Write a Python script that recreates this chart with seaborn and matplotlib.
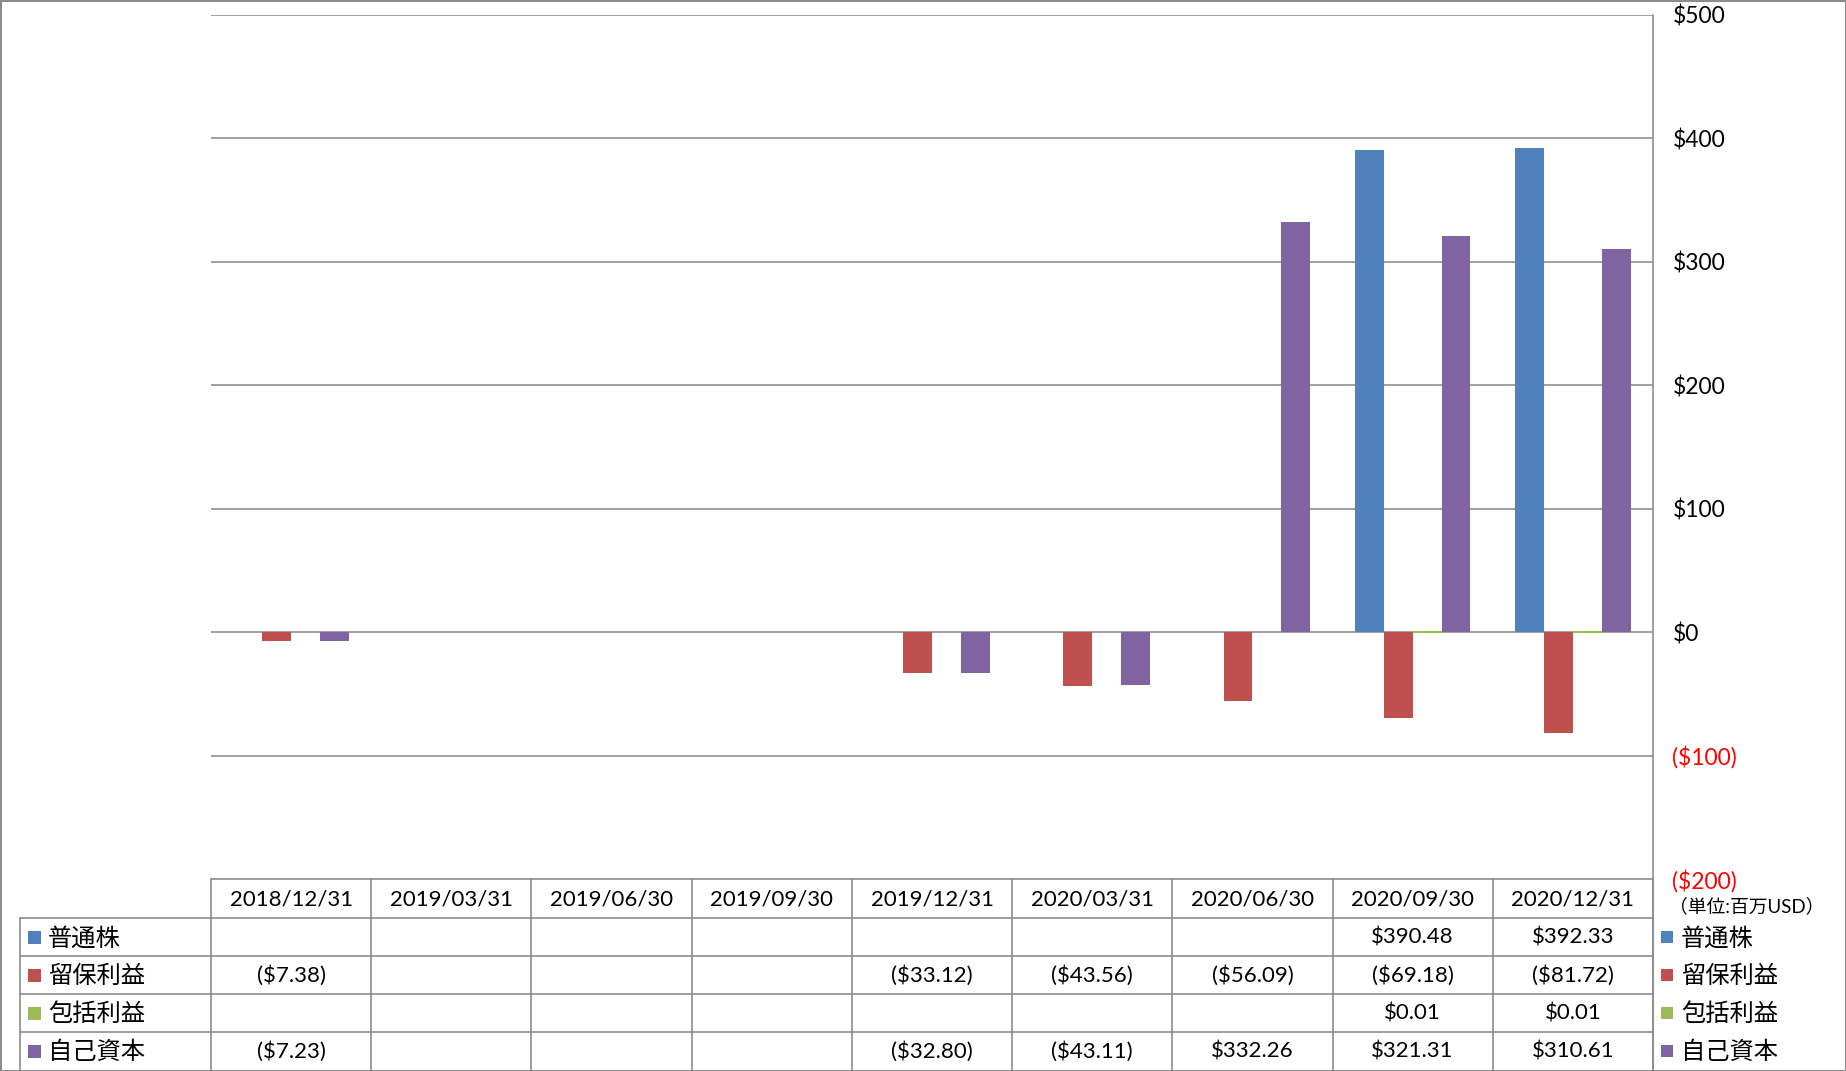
import numpy as np
import pandas as pd
import seaborn as sns
import matplotlib
matplotlib.use("Agg")
import matplotlib.pyplot as plt
from matplotlib.lines import Line2D
from matplotlib.patches import Rectangle

# ---- data ----
dates = ["2018/12/31", "2019/03/31", "2019/06/30", "2019/09/30", "2019/12/31",
         "2020/03/31", "2020/06/30", "2020/09/30", "2020/12/31"]
series_names = ["普通株", "留保利益", "包括利益", "自己資本"]
common_stock = [np.nan, np.nan, np.nan, np.nan, np.nan, np.nan, np.nan, 390.48, 392.33]
retained_earnings = [-7.38, np.nan, np.nan, np.nan, -33.12, -43.56, -56.09, -69.18, -81.72]
comprehensive_income = [np.nan, np.nan, np.nan, np.nan, np.nan, np.nan, np.nan, 0.01, 0.01]
equity = [-7.23, np.nan, np.nan, np.nan, -32.80, -43.11, 332.26, 321.31, 310.61]
yticks = [-200, -100, 0, 100, 200, 300, 400, 500]
unit_label = "（単位:百万USD）"
colors = ["#4F81BD", "#C0504D", "#9BBB59", "#8064A2"]

values = [common_stock, retained_earnings, comprehensive_income, equity]
rows = []
for name, vals in zip(series_names, values):
    for d, v in zip(dates, vals):
        rows.append({"date": d, "series": name, "value": v})
df = pd.DataFrame(rows)

sns.set_theme(style="white")
plt.rcParams["font.family"] = ["Lato", "Noto Sans CJK JP", "DejaVu Sans"]
plt.rcParams["text.parse_math"] = False

W, H = 1846, 1071
fig = plt.figure(figsize=(W / 100, H / 100), dpi=100)

# pixel geometry
px_left, px_right = 211, 1653
px_top, px_bottom = 15, 879
ax = fig.add_axes([px_left / W, 1 - px_bottom / H, (px_right - px_left) / W, (px_bottom - px_top) / H])

sns.barplot(data=df.dropna(), x="date", y="value", hue="series", order=dates,
            hue_order=series_names, palette=colors, width=0.72, saturation=1,
            edgecolor="none", linewidth=0, ax=ax)
ax.legend_.remove()
# tiny values remain visible as a thin line
for p in ax.containers[2].patches:
    p.set_edgecolor(colors[2])
    p.set_linewidth(1.5)
ax.set_xlim(-0.5, len(dates) - 0.5)
ax.set_ylim(-200, 500)
ax.set_yticks(yticks)
ax.yaxis.tick_right()
ax.set_yticklabels([f"${t}" if t >= 0 else f"(${-t})" for t in yticks], fontsize=16.5)
for lbl, t in zip(ax.get_yticklabels(), yticks):
    lbl.set_color("red" if t < 0 else "black")
    lbl.set_horizontalalignment("left")
ax.tick_params(axis="y", length=0, pad=14)
ax.set_xticks([])
ax.set_xlabel("")
ax.set_ylabel("")
for s in ax.spines.values():
    s.set_visible(False)
for t in yticks:
    if t > -200:
        ax.axhline(t, color="#868686", lw=1.1, zorder=0)

# ---- overlay for table/legend ----
ov = fig.add_axes([0, 0, 1, 1], facecolor="none")
ov.set_xlim(0, W)
ov.set_ylim(H, 0)
ov.axis("off")

gc = "#8c8c8c"
def line(x0, y0, x1, y1, lw=1.2):
    ov.add_line(Line2D([x0, x1], [y0, y1], color=gc, lw=lw))

# outer frame
ov.add_patch(Rectangle((0.5, 0.5), W - 1, H - 1, fill=False, ec=gc, lw=1.5))

ncol = len(dates)
cw = (px_right - px_left) / ncol
hdr_top, hdr_bot = 879, 918
row_h = (H - 1 - hdr_bot) / 4
lab_left = 20

# plot area right border
line(px_right, px_top, px_right, H)
# header row
line(px_left, hdr_top, px_right, hdr_top)
line(lab_left, hdr_bot, px_right, hdr_bot)
for i in range(ncol + 1):
    x = px_left + i * cw
    line(x, hdr_top, x, H)
line(lab_left, hdr_bot, lab_left, H)
for r in range(1, 4):
    y = hdr_bot + r * row_h
    line(lab_left, y, px_right, y)

for i, d in enumerate(dates):
    ov.text(px_left + (i + 0.5) * cw, (hdr_top + hdr_bot) / 2 + 1, d,
            ha="center", va="center", fontsize=16, color="black")

def fmt(v):
    if v is None or np.isnan(v):
        return ""
    return f"${v:.2f}" if v >= 0 else f"(${-v:.2f})"

for r, (name, vals, c) in enumerate(zip(series_names, values, colors)):
    yc = hdr_bot + (r + 0.5) * row_h
    ov.add_patch(Rectangle((28, yc - 6.5), 13, 13, color=c, lw=0))
    ov.text(48, yc + 1, name, ha="left", va="center", fontsize=17.5, color="black")
    for i, v in enumerate(vals):
        ov.text(px_left + (i + 0.5) * cw, yc + 1, fmt(v), ha="center", va="center",
                fontsize=16, color="black")
    # legend on right
    ov.add_patch(Rectangle((1661, yc - 6), 12, 12, color=c, lw=0))
    ov.text(1681, yc + 1, name, ha="left", va="center", fontsize=17.5, color="black")

ov.text(1747, 906, unit_label, ha="center", va="center", fontsize=13.5, color="black")

fig.savefig("out.png", dpi=100)
